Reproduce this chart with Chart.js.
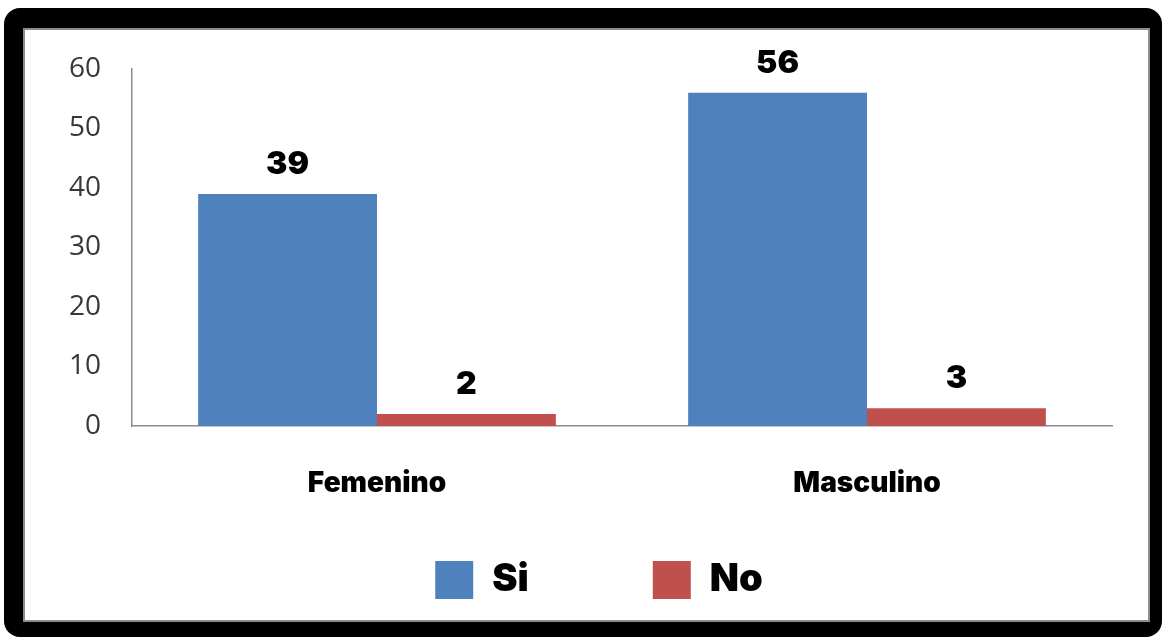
<!DOCTYPE html>
<html>
<head>
<meta charset="utf-8">
<script src="https://cdn.jsdelivr.net/npm/chart.js@4"></script>
<style>
  html, body { margin: 0; padding: 0; background: #fff; }
</style>
</head>
<body>
<canvas id="chart-sexo" width="1164" height="639"></canvas>
<script>
var categorias = ['Femenino', 'Masculino'];
var valoresSi = [39, 56];
var valoresNo = [2, 3];
var marcasY = [0, 10, 20, 30, 40, 50, 60];

var fuenteGruesa = 'Inter';

// marco negro redondeado con el panel blanco dentro
var marco = {
    id: 'marco',
    beforeDraw: function (chart) {
        var c = chart.ctx;
        c.save();
        c.fillStyle = '#000';
        c.beginPath();
        c.roundRect(4, 8, 1158, 629, 16);
        c.fill();
        c.fillStyle = '#fff';
        c.fillRect(25, 30, 1123, 590);
        c.strokeStyle = '#8c8c8c';
        c.lineWidth = 2;
        c.strokeRect(24, 29, 1125, 592);
        c.restore();
    }
};

// numero encima de cada barra
var etiquetas = {
    id: 'etiquetas',
    afterDatasetsDraw: function (chart) {
        var c = chart.ctx;
        c.save();
        c.font = '900 32px ' + fuenteGruesa;
        c.fillStyle = '#000';
        c.textAlign = 'center';
        c.textBaseline = 'alphabetic';
        chart.data.datasets.forEach(function (ds, i) {
            chart.getDatasetMeta(i).data.forEach(function (bar, j) {
                c.fillText(ds.data[j], bar.x, bar.y - 20);
            });
        });
        c.restore();
    }
};

var ctx = document.getElementById('chart-sexo').getContext('2d');
var chart = new Chart(ctx, {
    type: 'bar',
    data: {
        labels: categorias,
        datasets: [{
            label: 'Si',
            data: valoresSi,
            backgroundColor: '#4F81BD',
            categoryPercentage: 0.73,
            barPercentage: 1
        }, {
            label: 'No',
            data: valoresNo,
            backgroundColor: '#C0504D',
            categoryPercentage: 0.73,
            barPercentage: 1
        }]
    },
    options: {
        responsive: false,
        animation: false,
        layout: {
            padding: { top: 69, left: 86, right: 52, bottom: 30 }
        },
        plugins: {
            tooltip: { enabled: false },
            legend: {
                position: 'bottom',
                labels: {
                    boxWidth: 38,
                    boxHeight: 38,
                    padding: 124,
                    color: '#000',
                    font: { family: fuenteGruesa, size: 38, weight: '900' }
                }
            }
        },
        scales: {
            x: {
                grid: { display: false, drawTicks: false },
                border: { display: true, color: '#8c8c8c', width: 1.5 },
                ticks: {
                    autoSkip: false,
                    maxRotation: 0,
                    minRotation: 0,
                    // mirror evita que el texto se recorte al alto del eje
                    mirror: true,
                    padding: -74,
                    color: '#000',
                    font: { family: fuenteGruesa, size: 28, weight: '900' }
                },
                afterFit: function (scale) { scale.height = 11; }
            },
            y: {
                min: 0,
                max: 60,
                grid: { display: false, drawTicks: false },
                border: { display: true, color: '#8c8c8c', width: 1.5 },
                ticks: {
                    mirror: true,
                    crossAlign: 'far',
                    padding: -63,
                    color: '#383838',
                    font: { family: 'Open Sans', size: 28 }
                },
                afterBuildTicks: function (scale) {
                    scale.ticks = marcasY.map(function (v) { return { value: v }; });
                },
                afterFit: function (scale) { scale.width = 46; }
            }
        }
    },
    plugins: [marco, etiquetas]
});
</script>
</body>
</html>
